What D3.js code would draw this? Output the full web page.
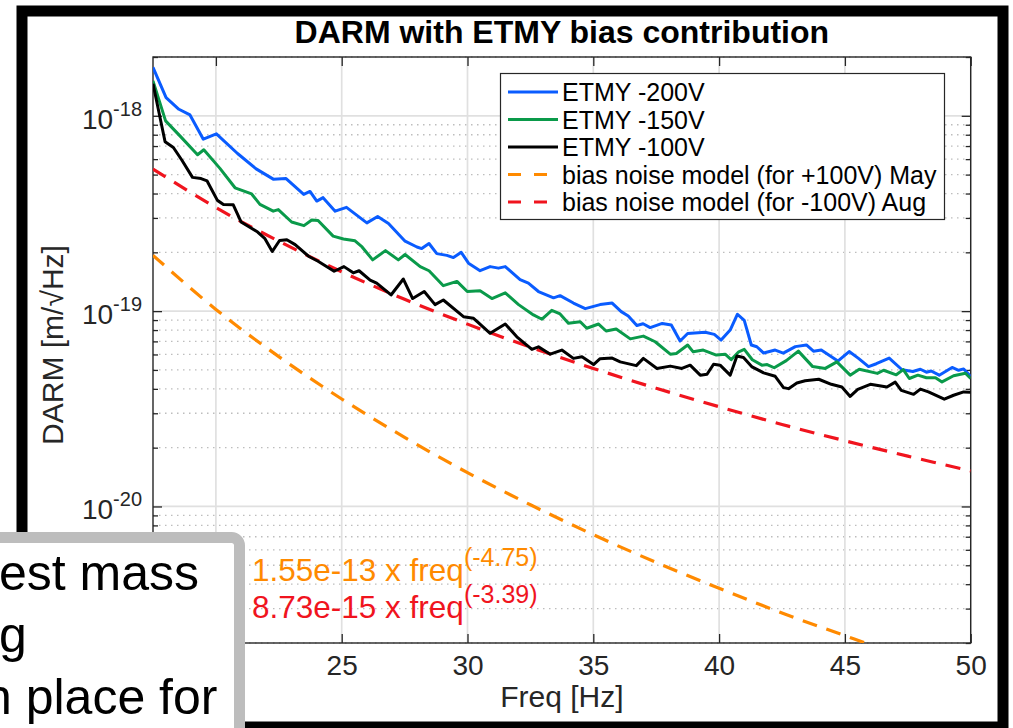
<!DOCTYPE html>
<html>
<head>
<meta charset="utf-8">
<script src="https://cdn.jsdelivr.net/npm/d3@7"></script>
<style>
  html, body { margin: 0; padding: 0; background: #fff; }
  svg { display: block; font-family: "Liberation Sans", Arial, Helvetica, sans-serif; }
</style>
</head>
<body>
<svg id="chart" width="1013" height="728"></svg>
<script>
(function () {
  var titleText = 'DARM with ETMY bias contribution';
  var xLabel = 'Freq [Hz]';
  var yLabel = 'DARM [m/\u221AHz]';
  var freqDomain = [17.5, 50];
  var ampDomain = [2e-21, 2e-18];
  var freqTicks = [20, 25, 30, 35, 40, 45, 50];
  var decadeExps = [-18, -19, -20];

  var etmy200 = [
    [17.5, 1.77e-18], [18.02, 1.24e-18], [18.53, 1.08e-18], [18.97, 1.01e-18],
    [19.5, 7.59e-19], [20.02, 8.09e-19], [20.86, 6.41e-19], [21.6, 5.35e-19],
    [22.28, 4.74e-19], [22.79, 4.77e-19], [23.49, 3.96e-19], [23.74, 4.10e-19],
    [24.01, 3.66e-19], [24.26, 3.81e-19], [24.74, 3.25e-19], [25.19, 3.40e-19],
    [26.0, 2.83e-19], [26.43, 3.05e-19], [26.86, 2.81e-19], [27.52, 2.28e-19],
    [27.99, 2.13e-19], [28.18, 2.09e-19], [28.47, 2.22e-19], [28.78, 1.97e-19],
    [29.18, 1.93e-19], [29.44, 1.88e-19], [29.75, 2.00e-19], [30.04, 1.76e-19],
    [30.5, 1.61e-19], [30.9, 1.69e-19], [31.23, 1.66e-19], [31.5, 1.69e-19],
    [32.09, 1.45e-19], [32.42, 1.39e-19], [32.82, 1.26e-19], [33.42, 1.17e-19],
    [33.68, 1.20e-19], [34.21, 1.10e-19], [34.68, 1.03e-19], [35.27, 1.08e-19],
    [35.75, 1.10e-19], [36.11, 9.94e-20], [36.39, 9.45e-20], [36.73, 8.44e-20],
    [36.98, 8.62e-20], [37.26, 8.24e-20], [37.74, 8.65e-20], [38.1, 8.49e-20],
    [38.45, 7.03e-20], [38.75, 7.68e-20], [39.45, 7.80e-20], [39.81, 7.60e-20],
    [40.08, 7.11e-20], [40.44, 8.00e-20], [40.73, 9.64e-20], [41.0, 8.96e-20],
    [41.28, 6.71e-20], [41.5, 6.57e-20], [41.77, 6.10e-20], [42.23, 6.32e-20],
    [42.55, 6.10e-20], [43.03, 6.58e-20], [43.47, 6.71e-20], [43.75, 6.24e-20],
    [44.06, 6.32e-20], [44.72, 5.55e-20], [45.17, 6.21e-20], [45.54, 5.73e-20],
    [45.94, 5.20e-20], [46.25, 5.38e-20], [46.76, 5.75e-20], [47.27, 5.01e-20],
    [47.7, 4.91e-20], [48.0, 5.04e-20], [48.24, 4.87e-20], [48.43, 4.94e-20],
    [48.75, 4.70e-20], [49.26, 5.15e-20], [49.52, 4.98e-20], [49.72, 5.06e-20],
    [50.0, 4.64e-20]
  ];
  var etmy150 = [
    [17.5, 1.51e-18], [18.0, 9.42e-19], [18.57, 7.89e-19], [19.27, 6.32e-19],
    [19.52, 6.70e-19], [20.16, 5.38e-19], [20.76, 4.28e-19], [21.42, 3.98e-19],
    [21.75, 3.52e-19], [22.28, 3.25e-19], [22.48, 3.31e-19], [23.01, 2.86e-19],
    [23.5, 2.74e-19], [23.81, 2.93e-19], [24.06, 2.91e-19], [24.66, 2.42e-19],
    [25.07, 2.34e-19], [25.53, 2.29e-19], [25.81, 2.13e-19], [26.23, 1.83e-19],
    [26.74, 2.04e-19], [27.25, 1.83e-19], [27.52, 1.95e-19], [28.12, 1.69e-19],
    [28.47, 1.61e-19], [29.04, 1.35e-19], [29.58, 1.42e-19], [29.99, 1.26e-19],
    [30.5, 1.27e-19], [30.97, 1.16e-19], [31.5, 1.24e-19], [32.03, 1.08e-19],
    [32.62, 9.56e-20], [32.96, 9.09e-20], [33.35, 1.01e-19], [33.68, 9.67e-20],
    [34.01, 8.67e-20], [34.48, 8.83e-20], [34.74, 8.17e-20], [35.21, 8.59e-20],
    [35.51, 7.91e-20], [35.91, 8.10e-20], [36.47, 7.21e-20], [36.99, 7.45e-20],
    [37.46, 6.97e-20], [38.06, 6.02e-20], [38.3, 6.07e-20], [38.75, 6.71e-20],
    [38.97, 6.19e-20], [39.37, 6.32e-20], [39.89, 5.96e-20], [40.24, 6.02e-20],
    [40.48, 5.64e-20], [40.78, 6.19e-20], [41.0, 6.37e-20], [41.32, 5.64e-20],
    [41.7, 5.29e-20], [41.91, 5.33e-20], [42.19, 5.13e-20], [42.67, 5.58e-20],
    [43.15, 6.24e-20], [43.72, 5.20e-20], [44.22, 5.09e-20], [44.68, 5.50e-20],
    [45.21, 4.70e-20], [45.57, 5.04e-20], [46.29, 4.80e-20], [46.54, 4.98e-20],
    [47.04, 4.72e-20], [47.32, 5.02e-20], [47.56, 4.52e-20], [47.9, 4.70e-20],
    [48.24, 4.56e-20], [48.6, 4.56e-20], [48.86, 4.34e-20], [49.32, 4.67e-20],
    [49.79, 4.81e-20], [50.0, 4.52e-20]
  ];
  var etmy100 = [
    [17.5, 1.46e-18], [17.98, 7.37e-19], [18.31, 6.88e-19], [18.65, 5.92e-19],
    [19.07, 4.84e-19], [19.41, 4.77e-19], [19.65, 4.64e-19], [20.06, 3.69e-19],
    [20.3, 3.52e-19], [20.69, 3.50e-19], [21.0, 2.86e-19], [21.66, 2.54e-19],
    [21.95, 2.35e-19], [22.24, 2.02e-19], [22.53, 2.30e-19], [22.82, 2.32e-19],
    [23.15, 2.19e-19], [23.68, 1.91e-19], [24.06, 1.80e-19], [24.7, 1.60e-19],
    [25.09, 1.69e-19], [25.46, 1.57e-19], [25.69, 1.61e-19], [26.13, 1.44e-19],
    [26.39, 1.39e-19], [26.96, 1.21e-19], [27.45, 1.46e-19], [27.82, 1.16e-19],
    [28.28, 1.26e-19], [28.71, 1.08e-19], [29.04, 1.14e-19], [29.84, 9.37e-20],
    [30.24, 9.19e-20], [30.42, 8.75e-20], [30.9, 7.70e-20], [31.5, 8.59e-20],
    [31.96, 7.39e-20], [32.56, 6.37e-20], [32.82, 6.57e-20], [33.29, 6.02e-20],
    [33.75, 6.32e-20], [34.21, 5.73e-20], [34.55, 5.84e-20], [35.01, 5.33e-20],
    [35.27, 5.71e-20], [35.75, 5.75e-20], [36.07, 5.50e-20], [36.71, 5.26e-20],
    [36.99, 5.73e-20], [37.53, 5.09e-20], [38.06, 5.23e-20], [38.52, 5.09e-20],
    [38.85, 5.29e-20], [39.25, 4.70e-20], [39.52, 4.75e-20], [39.78, 5.35e-20],
    [40.04, 5.29e-20], [40.44, 4.70e-20], [40.71, 5.89e-20], [40.97, 5.79e-20],
    [41.31, 5.18e-20], [41.77, 4.83e-20], [42.23, 4.64e-20], [42.56, 4.06e-20],
    [42.76, 4.01e-20], [43.09, 4.29e-20], [43.42, 4.40e-20], [43.96, 4.48e-20],
    [44.46, 4.22e-20], [44.88, 4.09e-20], [45.21, 3.66e-20], [45.51, 3.98e-20],
    [46.01, 4.22e-20], [46.67, 4.09e-20], [47.0, 4.33e-20], [47.24, 3.93e-20],
    [47.73, 3.75e-20], [48.0, 3.99e-20], [48.32, 3.86e-20], [48.95, 3.54e-20],
    [49.32, 3.71e-20], [49.72, 3.86e-20], [50.0, 3.84e-20]
  ];

  // bias noise models, sampled every 2.5 Hz
  var modelFreq = [17.5, 20, 22.5, 25, 27.5, 30, 32.5, 35, 37.5, 40, 42.5, 45, 47.5, 50];
  var modelMay = [1.93e-19, 1.02e-19, 5.85e-20, 3.55e-20, 2.26e-20, 1.49e-20, 1.02e-20,
    7.17e-21, 5.17e-21, 3.81e-21, 2.85e-21, 2.18e-21, 1.68e-21, 1.32e-21];
  var modelAug = [5.34e-19, 3.39e-19, 2.28e-19, 1.59e-19, 1.15e-19, 8.58e-20, 6.54e-20,
    5.09e-20, 4.03e-20, 3.24e-20, 2.63e-20, 2.17e-20, 1.81e-20, 1.52e-20];

  var legendLabels = ['ETMY -200V', 'ETMY -150V', 'ETMY -100V',
    'bias noise model (for +100V) May', 'bias noise model (for -100V) Aug'];
  var fitLabels = [['1.55e-13 x freq', '(-4.75)'], ['8.73e-15 x freq', '(-3.39)']];
  var boxLines = ['est mass', 'g', 'n place for'];

  var blue = '#0a5cff', green = '#0a9a4a', orange = '#ff8a00', red = '#f0141e';
  var axisColor = '#262626';

  var series = [
    {data: etmy200, color: blue, dash: null},
    {data: etmy150, color: green, dash: null},
    {data: etmy100, color: '#000', dash: null},
    {data: modelFreq.map(function (f, i) { return [f, modelMay[i]]; }), color: orange, dash: '15,10'},
    {data: modelFreq.map(function (f, i) { return [f, modelAug[i]]; }), color: red, dash: '15,10'}
  ];

  var left = 153, right = 970.7, top = 57, bottom = 643;
  // the slide's text box hides the plot's lower left corner
  var boxRight = 245, boxTop = 532;
  var svg = d3.select('#chart');

  var x = d3.scaleLinear().domain(freqDomain).range([left, right]);
  var y = d3.scaleLog().domain(ampDomain).range([bottom, top]);

  var isMajor = function (v) {
    var l = Math.log10(v);
    return Math.abs(l - Math.round(l)) < 1e-6;
  };
  var yMajor = decadeExps.map(function (e) { return Math.pow(10, e); });
  var yMinor = y.ticks().filter(function (v) { return !isMajor(v); });

  // outer black frame of the slide snapshot
  svg.append('rect')
    .attr('x', 22).attr('y', 11)
    .attr('width', 981).attr('height', 716)
    .attr('fill', '#fff')
    .attr('stroke', '#000')
    .attr('stroke-width', 11);

  svg.append('text')
    .attr('x', (left + right) / 2).attr('y', 43)
    .attr('text-anchor', 'middle')
    .attr('font-size', 32).attr('font-weight', 'bold')
    .attr('fill', '#000')
    .text(titleText);

  // grid
  var grid = svg.append('g');
  grid.selectAll('.minor-y').data(yMinor).enter().append('line')
    .attr('x1', left).attr('x2', right)
    .attr('y1', function (d) { return y(d); })
    .attr('y2', function (d) { return y(d); })
    .attr('stroke', '#bdbdbd').attr('stroke-width', 1.3)
    .attr('stroke-dasharray', '1.5,4.5');
  grid.selectAll('.major-y').data(yMajor).enter().append('line')
    .attr('x1', left).attr('x2', right)
    .attr('y1', function (d) { return y(d); })
    .attr('y2', function (d) { return y(d); })
    .attr('stroke', '#e0e0e0').attr('stroke-width', 1.7);
  grid.selectAll('.major-x').data(freqTicks).enter().append('line')
    .attr('y1', top).attr('y2', bottom)
    .attr('x1', function (d) { return x(d); })
    .attr('x2', function (d) { return x(d); })
    .attr('stroke', '#e0e0e0').attr('stroke-width', 1.7);

  // axes, ticks pointing inwards
  function styleAxis(g) {
    g.select('.domain').remove();
    g.selectAll('.tick line').attr('stroke', axisColor).attr('stroke-width', 1.3);
    g.selectAll('.tick text').attr('fill', axisColor);
  }
  svg.append('g')
    .attr('transform', 'translate(0,' + bottom + ')')
    .call(d3.axisBottom(x).tickValues(freqTicks).tickSize(-9).tickSizeOuter(0).tickPadding(12)
      .tickFormat(function (d) { return x(d) < boxRight ? '' : d; }))
    .call(styleAxis)
    .selectAll('.tick text').attr('font-size', 28).attr('font-family', null);
  svg.append('g')
    .attr('transform', 'translate(0,' + top + ')')
    .call(d3.axisTop(x).tickValues(freqTicks).tickSize(-9).tickSizeOuter(0).tickFormat(''))
    .call(styleAxis);
  [[left, d3.axisLeft], [right, d3.axisRight]].forEach(function (side) {
    svg.append('g')
      .attr('transform', 'translate(' + side[0] + ',0)')
      .call(side[1](y).tickValues(yMajor).tickSize(-9).tickSizeOuter(0).tickFormat(''))
      .call(styleAxis);
    svg.append('g')
      .attr('transform', 'translate(' + side[0] + ',0)')
      .call(side[1](y).tickValues(yMinor).tickSize(-5).tickSizeOuter(0).tickFormat(''))
      .call(styleAxis);
  });

  // y tick labels as 10^n
  var yl = svg.append('g').attr('fill', axisColor);
  yl.selectAll('text').data(decadeExps).enter().append('text')
    .attr('x', left - 11)
    .attr('y', function (d) { return y(Math.pow(10, d)) + 13; })
    .attr('text-anchor', 'end')
    .attr('font-size', 28)
    .each(function (d) {
      var t = d3.select(this);
      t.append('tspan').text('10');
      t.append('tspan').attr('dy', -13).attr('font-size', 20).text('-' + Math.abs(d));
    });

  svg.append('rect')
    .attr('x', left).attr('y', top)
    .attr('width', right - left).attr('height', bottom - top)
    .attr('fill', 'none')
    .attr('stroke', axisColor).attr('stroke-width', 1.4);

  svg.append('text')
    .attr('x', (left + right) / 2).attr('y', 707)
    .attr('text-anchor', 'middle')
    .attr('font-size', 30).attr('fill', axisColor)
    .text(xLabel);
  svg.append('text')
    .attr('transform', 'translate(63,345) rotate(-90)')
    .attr('text-anchor', 'middle')
    .attr('font-size', 30).attr('fill', axisColor)
    .text(yLabel);

  // curves
  svg.append('clipPath').attr('id', 'plot-clip')
    .append('rect')
      .attr('x', left).attr('y', top)
      .attr('width', right - left).attr('height', bottom - top);

  var line = d3.line()
    .x(function (d) { return x(d[0]); })
    .y(function (d) { return y(d[1]); });
  var smooth = d3.line()
    .x(function (d) { return x(d[0]); })
    .y(function (d) { return y(d[1]); })
    .curve(d3.curveCatmullRom);

  var curves = svg.append('g').attr('clip-path', 'url(#plot-clip)');
  // models drawn first, measured spectra on top
  [3, 4, 0, 1, 2].forEach(function (i) {
    var s = series[i];
    curves.append('path')
      .attr('d', s.dash ? smooth(s.data) : line(s.data))
      .attr('fill', 'none')
      .attr('stroke', s.color)
      .attr('stroke-width', s.dash ? 3.2 : 3)
      .attr('stroke-linejoin', 'round')
      .attr('stroke-dasharray', s.dash);
  });

  // legend
  var lg = svg.append('g');
  lg.append('rect')
    .attr('x', 500.5).attr('y', 73.5)
    .attr('width', 444).attr('height', 146)
    .attr('fill', '#fff')
    .attr('stroke', axisColor).attr('stroke-width', 1.2);
  var rows = lg.selectAll('.row').data(series).enter().append('g')
    .attr('transform', function (d, i) { return 'translate(0,' + (92 + i * 27.5) + ')'; });
  rows.append('line')
    .attr('x1', 508).attr('x2', 558)
    .attr('stroke', function (d) { return d.color; })
    .attr('stroke-width', 3)
    .attr('stroke-dasharray', function (d) { return d.dash ? '13,13' : null; });
  rows.append('text')
    .attr('x', 562).attr('y', 9)
    .attr('font-size', 25)
    .attr('fill', '#000')
    .text(function (d, i) { return legendLabels[i]; });

  // fit annotations
  svg.selectAll('.fit').data(fitLabels).enter().append('text')
    .attr('x', 252)
    .attr('y', function (d, i) { return 581 + i * 37; })
    .attr('font-size', 31.5)
    .attr('fill', function (d, i) { return i === 0 ? orange : red; })
    .each(function (d) {
      var t = d3.select(this);
      t.append('tspan').text(d[0]);
      t.append('tspan').attr('dy', -15).attr('font-size', 25).text(d[1]);
    });

  // overlapping slide text box in the lower left corner
  var box = svg.append('g');
  box.append('rect')
    .attr('x', -20).attr('y', boxTop + 5.5)
    .attr('width', boxRight - 5.5 + 20).attr('height', 300)
    .attr('rx', 8)
    .attr('fill', '#fff')
    .attr('stroke', '#bdbdbd').attr('stroke-width', 11);
  box.selectAll('.boxline').data(boxLines).enter().append('text')
    .attr('x', function (d, i) { return i === 2 ? -16 : -1; })
    .attr('y', function (d, i) { return 590 + i * 62; })
    .attr('font-size', 50)
    .attr('fill', '#000')
    .text(function (d) { return d; });
})();
</script>
</body>
</html>
